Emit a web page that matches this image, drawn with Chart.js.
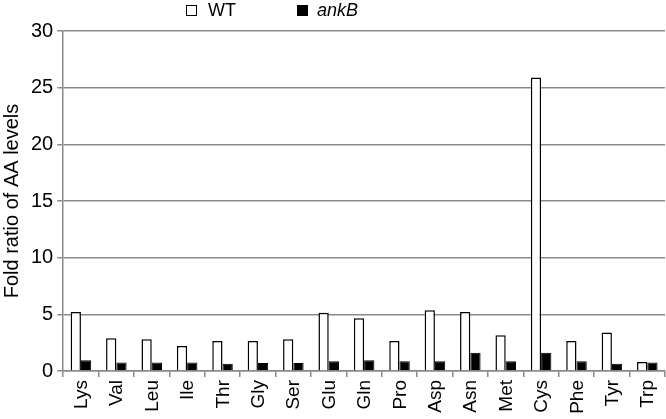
<!DOCTYPE html>
<html>
<head>
<meta charset="utf-8">
<script src="https://cdn.jsdelivr.net/npm/chart.js@4.4.0/dist/chart.umd.min.js"></script>
<style>
  html, body { margin: 0; padding: 0; background: #fff; overflow: hidden; }
  #wrap { position: relative; width: 666px; height: 419px; overflow: hidden; }
  #legend { position: absolute; top: 0px; left: 186px; font-family: "Liberation Sans", Arial, sans-serif; font-size: 18px; line-height: 20px; color: #000; display: flex; align-items: center; }
  .sw { display: inline-block; box-sizing: border-box; width: 11px; height: 11px; border: 1.5px solid #000; margin-right: 11px; }
  .item { display: flex; align-items: center; }
  .xlab { position: absolute; font-family: "Liberation Sans", Arial, sans-serif; font-size: 19px; line-height: 20px; width: 20px; color: #000; writing-mode: vertical-rl; transform: rotate(180deg); white-space: nowrap; }
</style>
</head>
<body>
<div id="wrap">
  <canvas id="aaChart" width="666" height="419"></canvas>
  <div id="legend">
    <span class="item"><span class="sw" style="background:#fff"></span>WT</span>
    <span class="item" style="margin-left:61px"><span class="sw" style="background:#000;margin-right:9px"></span><i>ankB</i></span>
  </div>
</div>
<script>
// amino acids on the x axis
const aminoAcids = ['Lys', 'Val', 'Leu', 'Ile', 'Thr', 'Gly', 'Ser', 'Glu', 'Gln', 'Pro', 'Asp', 'Asn', 'Met', 'Cys', 'Phe', 'Tyr', 'Trp'];
const wtValues = [5.2, 2.9, 2.8, 2.2, 2.65, 2.65, 2.8, 5.15, 4.65, 2.65, 5.35, 5.2, 3.15, 25.9, 2.65, 3.4, 0.8];
const ankBValues = [0.95, 0.75, 0.75, 0.75, 0.65, 0.7, 0.7, 0.85, 0.95, 0.85, 0.85, 1.6, 0.85, 1.6, 0.85, 0.65, 0.75];
const yMin = 0;
const yMax = 30;
const yStep = 5;

const ctx = document.getElementById('aaChart').getContext('2d');
const chart = new Chart(ctx, {
    type: 'bar',
    data: {
        labels: aminoAcids,
        datasets: [
            {
                label: 'WT',
                data: wtValues,
                backgroundColor: '#fff',
                borderColor: '#000',
                borderWidth: 1.5,
                categoryPercentage: 0.58,
                barPercentage: 1.0
            },
            {
                label: 'ankB',
                data: ankBValues,
                backgroundColor: '#000',
                borderColor: '#000',
                borderWidth: 1,
                categoryPercentage: 0.58,
                barPercentage: 1.0
            }
        ]
    },
    options: {
        responsive: false,
        animation: false,
        layout: { padding: { top: 31, right: 1, left: 0, bottom: 42 } },
        plugins: {
            legend: { display: false },
            tooltip: { enabled: false }
        },
        scales: {
            y: {
                min: yMin,
                max: yMax,
                ticks: { stepSize: yStep, color: '#000', font: { size: 20, family: 'Liberation Sans' }, padding: 4 },
                grid: { color: '#8a8a8a', lineWidth: 1.5, tickLength: 6 },
                border: { color: '#8a8a8a', width: 1.5 },
                title: {
                    display: true,
                    text: 'Fold ratio of AA levels',
                    color: '#000',
                    font: { size: 20, family: 'Liberation Sans' },
                    padding: { top: 0, bottom: 3 }
                }
            },
            x: {
                ticks: { display: false },
                grid: { drawOnChartArea: false, color: '#8a8a8a', lineWidth: 1.5, tickLength: 6 },
                border: { color: '#8a8a8a', width: 1.5 }
            }
        }
    }
});

// x labels as vertical text (bottom-to-top), placed at the category scale's tick pixels
const wrap = document.getElementById('wrap');
const xs = chart.scales.x;
aminoAcids.forEach((lab, i) => {
    const el = document.createElement('span');
    el.className = 'xlab';
    el.textContent = lab;
    el.style.left = (xs.getPixelForTick(i) - 10) + 'px';
    el.style.top = (xs.top + 9) + 'px';
    wrap.appendChild(el);
});
</script>
</body>
</html>
